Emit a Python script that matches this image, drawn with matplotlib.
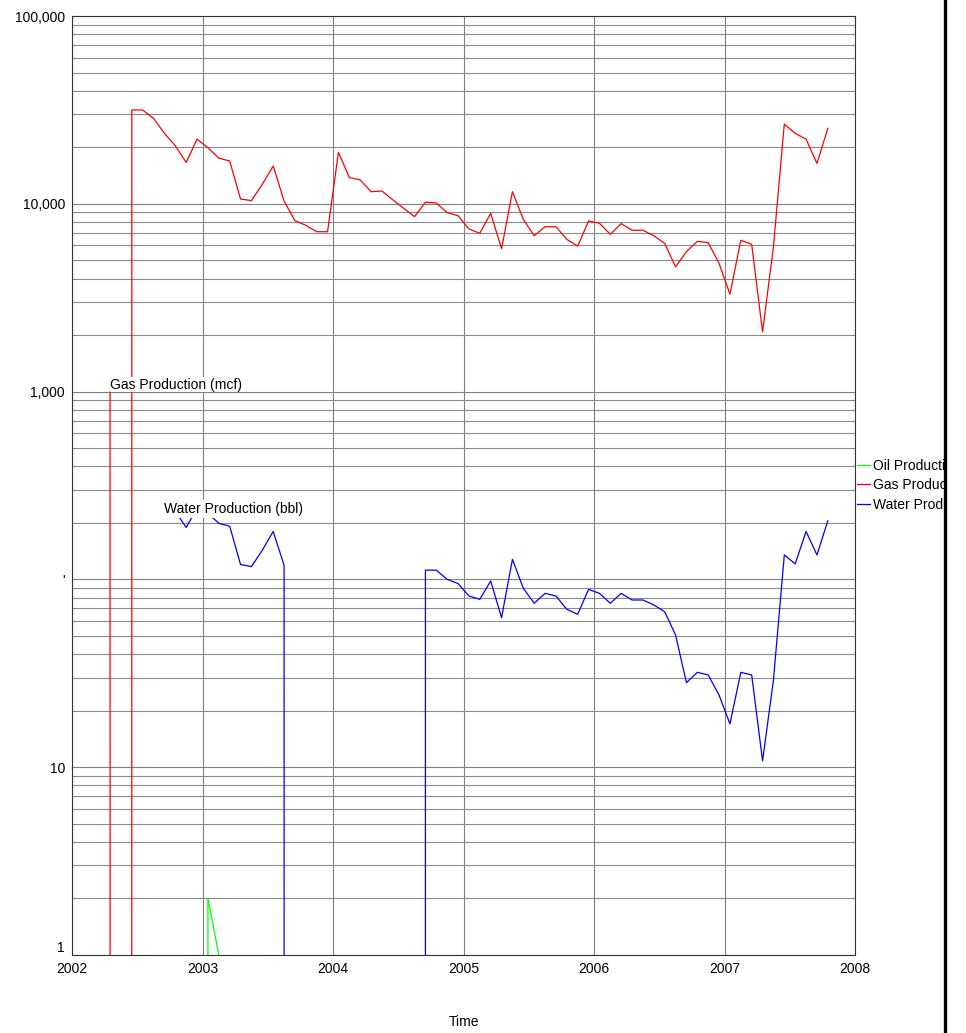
import numpy as np
import matplotlib
matplotlib.use("Agg")
import matplotlib.pyplot as plt
from matplotlib.lines import Line2D
from matplotlib.patches import Rectangle

plt.rcParams['font.family'] = ['Liberation Sans', 'DejaVu Sans']

# monthly data, Apr 2002 .. Oct 2007
first_year = 2002
first_month = 4
gas = [1000, 0, 31600, 31600, 28500, 23700, 20400, 16600, 22100,
       19900, 17500, 16900, 10600, 10400, 12700, 15900, 10350, 8130, 7680, 7100, 7100,
       18800, 13800, 13400, 11600, 11700, 10500, 9460, 8540, 10200, 10100, 8970, 8640,
       7340, 6970, 8900, 5770, 11600, 8270, 6760, 7550, 7550, 6470, 5950, 8100,
       7880, 6880, 7840, 7230, 7230, 6760, 6160, 4620, 5560, 6310, 6210, 4820,
       3300, 6390, 6090, 2080, 5900, 26600, 23700, 22100, 16400, 25200]
water = [np.nan, np.nan, np.nan, np.nan, np.nan, 218, 230, 189, 240,
         225, 199, 192, 120, 117, 143, 180, 119, 0, 0, 0, 0,
         0, 0, 0, 0, 0, 0, 0, 0, 112, 112, 100, 95,
         81.6, 78.3, 98.1, 62.5, 128, 89.7, 74.6, 84.3, 81.6, 69.3, 65.2, 88.5,
         84.3, 74.6, 84.3, 77.7, 77.7, 73.1, 67.3, 50.6, 28.2, 32.0, 31.0, 24.2,
         17.0, 32.0, 31.0, 10.8, 29.1, 135, 121, 180, 135, 205]
oil = [0, 0, 0, 0, 0, 0, 0, 0, 0,
       2, 1, 0, 0, 0, 0, 0, 0, 0, 0, 0, 0,
       0, 0, 0, 0, 0, 0, 0, 0, 0, 0, 0, 0,
       0, 0, 0, 0, 0, 0, 0, 0, 0, 0, 0, 0,
       0, 0, 0, 0, 0, 0, 0, 0, 0, 0, 0, 0,
       0, 0, 0, 0, 0, 0, 0, 0, 0, 0]

names = ["Oil Production (bbl)", "Gas Production (mcf)", "Water Production (bbl)"]
colors = ["#00ff00", "#ff0000", "#0000ff"]

yticks = [1, 10, 100, 1000, 10000, 100000]
ytick_labels = ["1", "10", "'", "1,000", "10,000", "100,000"]
xticks = [2002, 2003, 2004, 2005, 2006, 2007, 2008]

# mid-month positions in decimal years
t = first_year + (np.arange(len(gas)) + first_month - 1 + 0.5) / 12

fig = plt.figure(figsize=(9.66, 10.33), dpi=100)
ax = fig.add_axes([72/966, 1-955/1033, (855-72)/966, (955-16)/1033])

series = [oil, gas, water]
for name, c, vals in zip(names, colors, series):
    ax.plot(t, vals, color=c, lw=0.9, label=name)

ax.set_yscale("log")
ax.set_ylim(1, 100000)
ax.set_xlim(2002, 2008)
ax.set_yticks(yticks)
ax.set_yticklabels(ytick_labels)
ax.set_xticks(xticks)
ax.set_xticklabels([str(x) for x in xticks])
ax.tick_params(which="both", length=0, labelsize=10, pad=5)
ax.yaxis.get_ticklabels()[0].set_verticalalignment("bottom")

ax.grid(which="major", color="#808080", lw=0.8)
ax.grid(which="minor", axis="y", color="#8a8a8a", lw=0.8)
ax.set_axisbelow(True)
for s in ax.spines.values():
    s.set_color("#333333")
    s.set_linewidth(0.8)

ax.set_xlabel("Time", fontsize=10, labelpad=28)

# series labels at first point of gas and water
ax.text(t[0], gas[0], names[1], fontsize=10, ha="left", va="bottom",
        bbox=dict(facecolor="white", edgecolor="none", pad=0.3), zorder=5)
wi = int(np.where(~np.isnan(np.array(water, dtype=float)))[0][0])
ax.text(t[wi], water[wi], names[2], fontsize=10, ha="left", va="bottom",
        bbox=dict(facecolor="white", edgecolor="none", pad=1.5), zorder=5)

ax.legend(loc="upper left", bbox_to_anchor=(857/966, 1-459/1033),
          bbox_transform=fig.transFigure, frameon=False, fontsize=10,
          handlelength=0.9, handletextpad=0.25, labelspacing=0.38,
          borderpad=0, borderaxespad=0)

# right frame line, legend cut off past it
fig.patches.append(Rectangle((946/966, 0), 1-946/966, 1, transform=fig.transFigure,
                             facecolor="white", edgecolor="none", zorder=10))
fig.lines.append(Line2D([945/966, 945/966], [0, 1], transform=fig.transFigure,
                        color="black", lw=2.4, zorder=11))

fig.savefig("out.png", dpi=100, facecolor="white")
